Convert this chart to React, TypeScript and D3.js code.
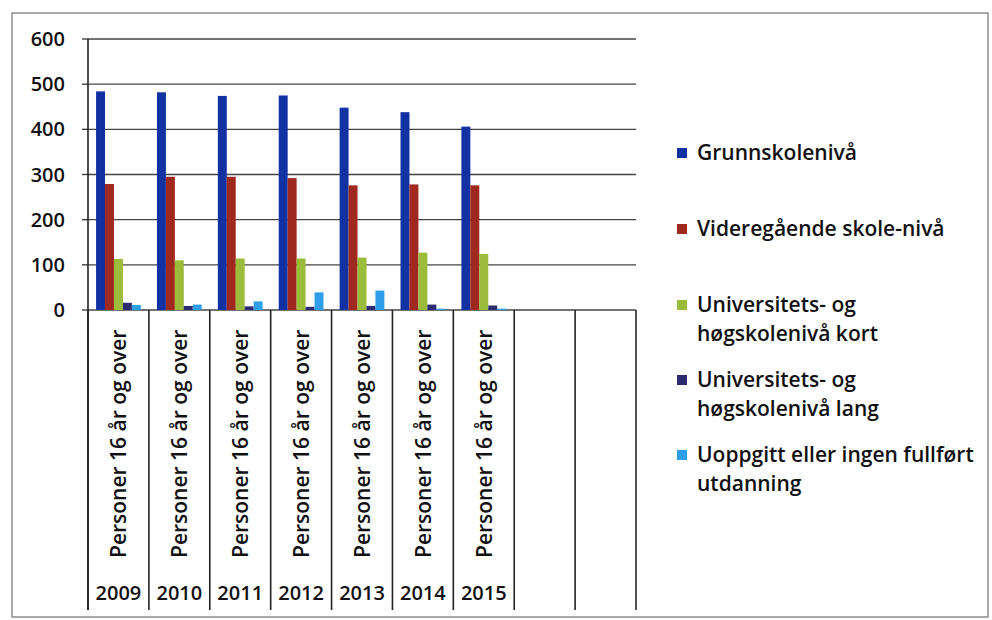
import React from "react";
import * as d3 from "d3";

const years = ["2009", "2010", "2011", "2012", "2013", "2014", "2015"];
const emptySlots = ["_a", "_b"];
const categoryLabel = "Personer 16 år og over";
const seriesNames = [
  "Grunnskolenivå",
  "Videregående skole-nivå",
  "Universitets- og høgskolenivå kort",
  "Universitets- og høgskolenivå lang",
  "Uoppgitt eller ingen fullført utdanning",
];
const legendLines = [
  ["Grunnskolenivå"],
  ["Videregående skole-nivå"],
  ["Universitets- og", "høgskolenivå kort"],
  ["Universitets- og", "høgskolenivå lang"],
  ["Uoppgitt eller ingen fullført", "utdanning"],
];
const grunnskole = [484, 482, 474, 475, 448, 438, 406];
const videregaende = [279, 295, 295, 292, 276, 278, 276];
const uniKort = [113, 110, 114, 114, 116, 127, 124];
const uniLang = [16, 9, 8, 7, 9, 12, 10];
const uoppgitt = [11, 12, 19, 39, 43, 3, 3];
const seriesValues = [grunnskole, videregaende, uniKort, uniLang, uoppgitt];
const colors = ["#1232a3", "#a0291f", "#9bbb3a", "#2c2b70", "#2f9ee8"];
const yTicks = [0, 100, 200, 300, 400, 500, 600];

const FONT = "'Open Sans', sans-serif";

export default function App() {
  const W = 992, H = 620;
  const left = 88, right = 636, top = 39, base = 310, bottom = 610;
  const x = d3.scaleBand<string>().domain([...years, ...emptySlots]).range([left, right]).padding(0);
  const inner = d3.scaleBand<string>().domain(seriesNames).range([0, x.bandwidth()]).paddingInner(0).paddingOuter(0.9);
  const y = d3.scaleLinear().domain([0, 600]).range([base, top]);
  const boundaries = [...years, ...emptySlots].map((d) => x(d) as number).concat([right]);

  return (
    <svg width={W} height={H} style={{ position: "absolute", left: 0, top: 0, background: "#fff" }}>
      <rect x={0} y={0} width={W} height={H} fill="#fff" />
      <rect x={12} y={13} width={976} height={604} fill="none" stroke="#555" strokeWidth={1} />
      {yTicks.map((t) => (
        <g key={t}>
          <line x1={left} x2={right} y1={y(t)} y2={y(t)} stroke="#444" strokeWidth={1.3} />
          <line x1={left - 6} x2={left} y1={y(t)} y2={y(t)} stroke="#333" strokeWidth={1.3} />
          <text x={65} y={y(t)} dy="0.35em" textAnchor="end" fontFamily={FONT} fontWeight={600} fontSize={20} fill="#111">{t}</text>
        </g>
      ))}
      <line x1={left} x2={left} y1={top} y2={bottom} stroke="#222" strokeWidth={1.6} />
      {boundaries.map((bx, i) => (
        <line key={i} x1={bx} x2={bx} y1={base} y2={bottom} stroke="#222" strokeWidth={1.6} />
      ))}
      {years.map((yr, i) => (
        <g key={yr}>
          {seriesNames.map((s, j) => {
            const v = seriesValues[j][i];
            return (
              <rect key={s} x={(x(yr) as number) + (inner(s) as number)} y={y(v)} width={inner.bandwidth()} height={base - y(v)} fill={colors[j]} />
            );
          })}
        </g>
      ))}
      {years.map((yr) => {
        const cx = (x(yr) as number) + x.bandwidth() / 2;
        return (
          <g key={"l" + yr}>
            <text transform={`translate(${cx + 8},${558}) rotate(-90)`} fontFamily={FONT} fontWeight={600} fontSize={21} fill="#111">{categoryLabel}</text>
            <text x={cx} y={593} dy="0.35em" textAnchor="middle" fontFamily={FONT} fontWeight={600} fontSize={20} fill="#111">{yr}</text>
          </g>
        );
      })}
      {legendLines.map((lines, i) => {
        const ys = [153, 229, 305, 380, 455];
        return (
          <g key={i}>
            <rect x={677} y={ys[i] - 5} width={10} height={10} fill={colors[i]} />
            {lines.map((ln, k) => (
              <text key={k} x={697} y={ys[i] + k * 29} dy="0.35em" fontFamily={FONT} fontWeight={600} fontSize={21} fill="#111">{ln}</text>
            ))}
          </g>
        );
      })}
    </svg>
  );
}
